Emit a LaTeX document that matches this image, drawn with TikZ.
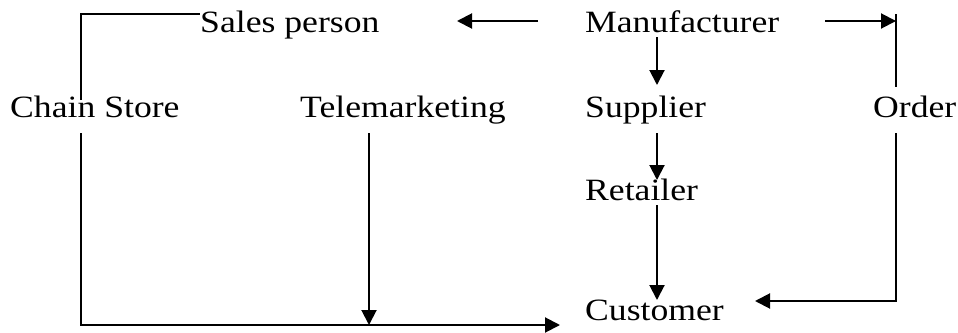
\documentclass[tikz,border=0pt]{standalone}
\usepackage{fontspec}
\setmainfont{Liberation Serif}[FakeStretch=1.15]
\usetikzlibrary{arrows.meta}
\begin{document}
\begin{tikzpicture}[x=1pt,y=-1pt,
  lbl/.style={anchor=base west,inner sep=0pt,font=\fontsize{31}{36}\selectfont},
  conn/.style={line width=2pt},
  arr/.style={conn,-{Triangle[length=15pt,width=15pt]}}]
\useasboundingbox (0,0) rectangle (958,332);
% texts
\node[lbl] (sales) at (200,32) {Sales person};
\node[lbl] (man) at (585,32) {Manufacturer};
\node[lbl] (chain) at (10,117) {Chain Store};
\node[lbl] (tele) at (300,117) {Telemarketing};
\node[lbl] (sup) at (585,117) {Supplier};
\node[lbl] (ord) at (873,117) {Order};
\node[lbl] (ret) at (585,200) {Retailer};
\node[lbl] (cust) at (585,320) {Customer};
% helper coordinates
\coordinate (c1) at (81,100);
\coordinate (c2) at (81,14);
\coordinate (c3) at (81,133);
\coordinate (c4) at (81,325);
\coordinate (c5) at (560,325);
\coordinate (t1) at (369,133);
\coordinate (t2) at (369,325);
\coordinate (m1) at (538,21);
\coordinate (m2) at (457,21);
\coordinate (m3) at (825,21);
\coordinate (o1) at (896,14);
\coordinate (o2) at (896,87);
\coordinate (o3) at (896,133);
\coordinate (o4) at (896,301);
\coordinate (o5) at (755,301);
\coordinate (s1) at (657,37);
\coordinate (s2) at (657,85);
\coordinate (s3) at (657,133);
\coordinate (s4) at (657,180);
\coordinate (s5) at (657,205);
\coordinate (s6) at (657,300);
% connectors
\draw[conn] (c1) -- (c2) -- (sales.west |- c2);
\draw[arr] (c3) -- (c4) -- (c5);
\draw[arr] (t1) -- (t2);
\draw[arr] (m1) -- (m2);
\draw[arr] (m3) -- (m3 -| o1);
\draw[conn] (o1) -- (o2);
\draw[arr] (o3) -- (o4) -- (o5);
\draw[arr] (s1) -- (s2);
\draw[arr] (s3) -- (s4);
\draw[arr] (s5) -- (s6);
\end{tikzpicture}
\end{document}
